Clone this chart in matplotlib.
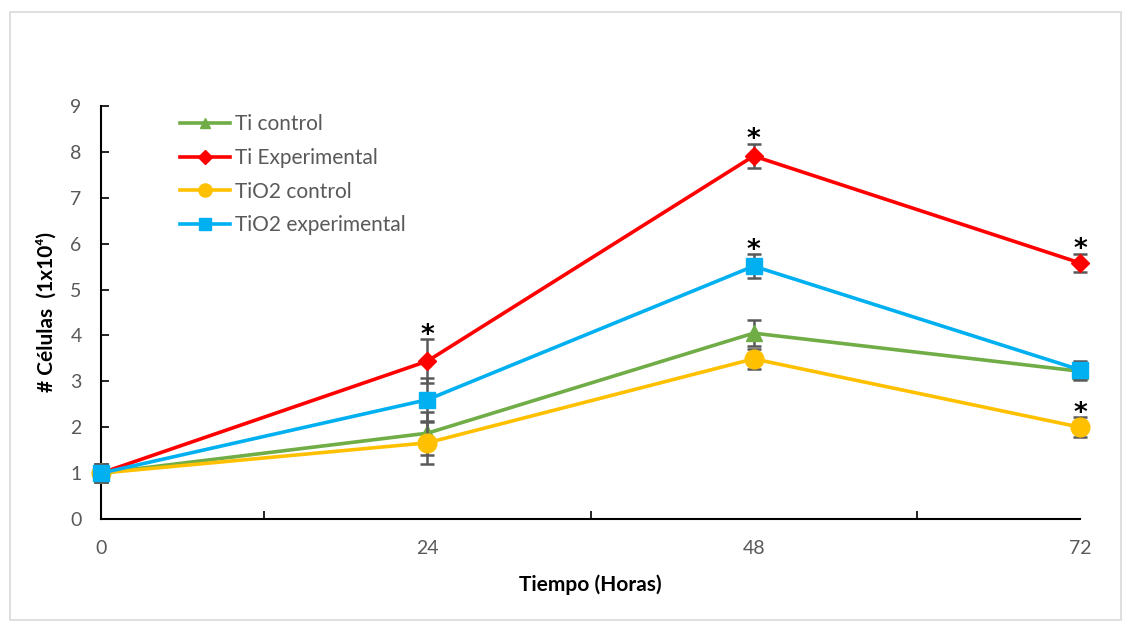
import matplotlib
matplotlib.use("Agg")
import matplotlib.pyplot as plt
from matplotlib.patches import Rectangle

plt.rcParams['font.family'] = ['Lato', 'DejaVu Sans']

hours = [0, 24, 48, 72]
series_names = ["Ti control", "Ti Experimental", "TiO2 control", "TiO2 experimental"]
ti_control = [1.0, 1.87, 4.05, 3.22]
ti_control_err = [0.2, 0.47, 0.28, 0.2]
ti_exp = [1.0, 3.44, 7.91, 5.58]
ti_exp_err = [0.2, 0.48, 0.27, 0.2]
tio2_control = [1.0, 1.66, 3.49, 2.0]
tio2_control_err = [0.2, 0.47, 0.22, 0.22]
tio2_exp = [1.0, 2.6, 5.51, 3.25]
tio2_exp_err = [0.2, 0.48, 0.26, 0.2]

# significance marks: (series index, hour)
stars = [(1, 24), (1, 48), (3, 48), (1, 72), (2, 72)]

colors = ["#70AD47", "#FF0000", "#FFC000", "#00B0F0"]
markers = ["^", "D", "o", "s"]
msizes = [11, 9.5, 13.5, 11.5]

fig = plt.figure(figsize=(11.31, 6.28), dpi=100)
fig.patches.append(Rectangle((10/1131, 1-620/628), 1111/1131, 608/628,
                             transform=fig.transFigure, fill=False,
                             edgecolor="#D9D9D9", linewidth=1.2))
ax = fig.add_axes([101/1131, 1-519/628, 979/1131, 413/628])

data = [(ti_control, ti_control_err), (ti_exp, ti_exp_err),
        (tio2_control, tio2_control_err), (tio2_exp, tio2_exp_err)]

for i, ((vals, errs), name) in enumerate(zip(data, series_names)):
    ax.errorbar(hours, vals, yerr=errs, fmt="none", ecolor="#595959",
                elinewidth=1.8, capsize=5, capthick=1.8, zorder=2 + i, clip_on=False)
    ax.plot(hours, vals, color=colors[i], marker=markers[i], markersize=msizes[i],
            linewidth=2.6, label=name, zorder=3 + i, clip_on=False)

for si, h in stars:
    vals, errs = data[si]
    idx = hours.index(h)
    ax.text(h, vals[idx] + errs[idx] - 0.08, "*", ha="center", va="baseline",
            fontsize=19, fontweight="bold", color="black", zorder=20,
            family="DejaVu Sans")

ax.set_xlim(0, 72)
ax.set_ylim(0, 9)
ax.set_yticks(range(0, 10))
ax.set_xticks([12, 36, 60])
ax.set_xticklabels([])
for h in hours:
    ax.text(h, -0.45, str(h), ha="center", va="top", fontsize=14, color="#595959",
            transform=ax.transData)
ax.tick_params(axis="x", direction="in", length=6, width=1.2, color="black")
ax.tick_params(axis="y", direction="in", length=6, width=1.2, color="black",
               labelsize=14, labelcolor="#595959", pad=14)
for s in ["top", "right"]:
    ax.spines[s].set_visible(False)
for s in ["left", "bottom"]:
    ax.spines[s].set_linewidth(1.5)
    ax.spines[s].set_color("black")

ax.set_ylabel("# Células  (1x10\u2074)", fontsize=15, fontweight="bold", labelpad=10)
fig.text(590/1131, 1-585/628, "Tiempo (Horas)", ha="center", va="center",
         fontsize=15, fontweight="bold")

leg = ax.legend(loc="upper left", bbox_to_anchor=(0.062, 1.025), frameon=False,
                fontsize=15, handlelength=2.4, labelspacing=0.65, handletextpad=0.2,
                markerscale=0.7)
for t in leg.get_texts():
    t.set_color("#595959")

fig.savefig("out.png", dpi=100)
